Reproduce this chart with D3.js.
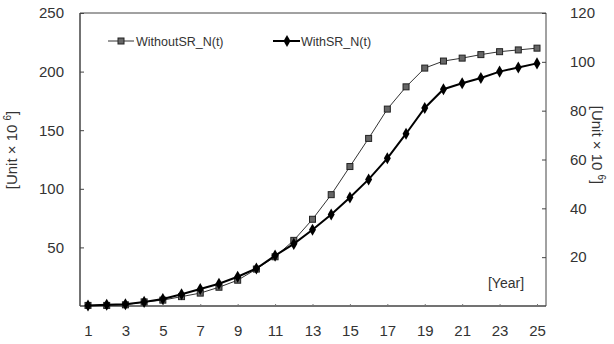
<!DOCTYPE html>
<html><head><meta charset="utf-8">
<script src="https://cdn.jsdelivr.net/npm/d3@7"></script>
<style>body{margin:0;background:#fff}svg{display:block}text{font-family:"Liberation Sans",Arial,sans-serif}</style>
</head><body>
<script>
const years = d3.range(1, 26);
const withoutSR = [0.5,0.5,1,3.5,5,8,11,16,22,31.5,42,56,74,95,119,143,168,187,203,209,211.5,214.5,217,218.5,220];
const withSR = [0.5,1,1.5,3.5,6,10,14.5,19,25,32,43,53,65,78,92.5,108,126,147,169,185,190,194.5,200,203.5,207];
const xTicks = [1,3,5,7,9,11,13,15,17,19,21,23,25];
const leftTicks = [50,100,150,200,250];
const rightTicks = [20,40,60,80,100,120];
const seriesNames = ["WithoutSR_N(t)", "WithSR_N(t)"];

const W = 614, H = 344;
const L = 80, R = 546, T = 13, B = 306;
const svg = d3.select("body").append("svg").attr("width", W).attr("height", H);

const x = d3.scaleLinear().domain([1, 25]).range([88, 537]);
const yL = d3.scaleLinear().domain([0, 250]).range([B, T]);
const yR = d3.scaleLinear().domain([0, 120]).range([B, T]);

// frame
svg.append("line").attr("x1", L).attr("x2", R).attr("y1", T).attr("y2", T).attr("stroke", "#444").attr("stroke-width", 1);
svg.append("line").attr("x1", L).attr("x2", L).attr("y1", T).attr("y2", B).attr("stroke", "#444").attr("stroke-width", 1.5);
svg.append("line").attr("x1", R).attr("x2", R).attr("y1", T).attr("y2", B).attr("stroke", "#444").attr("stroke-width", 1);
svg.append("line").attr("x1", L).attr("x2", R).attr("y1", B).attr("y2", B).attr("stroke", "#444").attr("stroke-width", 1.5);

// left axis
const gl = svg.append("g").attr("transform", `translate(${L},0)`)
  .call(d3.axisRight(yL).tickValues(leftTicks).tickSize(4).tickFormat(d3.format("d")));
gl.select(".domain").remove();
gl.selectAll("line").attr("stroke", "#444");
gl.selectAll("text").attr("x", -16).attr("text-anchor", "end").attr("font-size", 15).attr("fill", "#333");

// right axis
const gr = svg.append("g").attr("transform", `translate(${R},0)`)
  .call(d3.axisLeft(yR).tickValues(rightTicks).tickSize(4).tickFormat(d3.format("d")));
gr.select(".domain").remove();
gr.selectAll("line").attr("stroke", "#444");
gr.selectAll("text").attr("x", 24).attr("text-anchor", "start").attr("font-size", 15).attr("fill", "#333");

// bottom axis
const gb = svg.append("g").attr("transform", `translate(0,${B})`)
  .call(d3.axisTop(x).tickValues(xTicks).tickSize(2).tickFormat(d3.format("d")));
gb.select(".domain").remove();
gb.selectAll("line").attr("stroke", "#777");
gb.selectAll("text").attr("y", 30).attr("dy", "0").attr("font-size", 15).attr("fill", "#333");

// axis titles
svg.append("text").attr("transform", "translate(17,150) rotate(-90)").attr("text-anchor", "middle")
  .attr("font-size", 15).attr("fill", "#333")
  .html('[Unit × 10 <tspan dy="-6" font-size="10">6</tspan><tspan dy="6">]</tspan>');
svg.append("text").attr("transform", "translate(592,145) rotate(90)").attr("text-anchor", "middle")
  .attr("font-size", 15).attr("fill", "#333")
  .html('[Unit × 10 <tspan dy="-6" font-size="10">6</tspan><tspan dy="6">]</tspan>');
svg.append("text").attr("x", 506).attr("y", 288).attr("text-anchor", "middle").attr("font-size", 14).attr("fill", "#333").text("[Year]");

const lineGen = s => d3.line().x((d, i) => x(years[i])).y(d => yL(d))(s);

// WithoutSR
svg.append("path").attr("d", lineGen(withoutSR)).attr("fill", "none").attr("stroke", "#333").attr("stroke-width", 1);
svg.append("g").selectAll("rect").data(withoutSR).join("rect")
  .attr("x", (d, i) => x(years[i]) - 3).attr("y", d => yL(d) - 3).attr("width", 6).attr("height", 6)
  .attr("fill", "#666").attr("stroke", "#222").attr("stroke-width", 1);

// WithSR
svg.append("path").attr("d", lineGen(withSR)).attr("fill", "none").attr("stroke", "#000").attr("stroke-width", 2);
const diamond = d3.symbol().type(d3.symbolDiamond).size(42);
svg.append("g").selectAll("path").data(withSR).join("path")
  .attr("d", diamond).attr("transform", (d, i) => `translate(${x(years[i])},${yL(d)})`).attr("fill", "#000");

// legend
const lg = svg.append("g");
lg.append("line").attr("x1", 108).attr("x2", 134).attr("y1", 41).attr("y2", 41).attr("stroke", "#333").attr("stroke-width", 1);
lg.append("rect").attr("x", 118).attr("y", 38).attr("width", 6).attr("height", 6).attr("fill", "#666").attr("stroke", "#222");
lg.append("text").attr("x", 136).attr("y", 45.5).attr("font-size", 12.5).attr("fill", "#333").text(seriesNames[0]);
lg.append("line").attr("x1", 273).attr("x2", 300).attr("y1", 41).attr("y2", 41).attr("stroke", "#000").attr("stroke-width", 2);
lg.append("path").attr("d", diamond).attr("transform", "translate(287,41)").attr("fill", "#000");
lg.append("text").attr("x", 301).attr("y", 45.5).attr("font-size", 12.5).attr("fill", "#333").text(seriesNames[1]);
</script>
</body></html>
